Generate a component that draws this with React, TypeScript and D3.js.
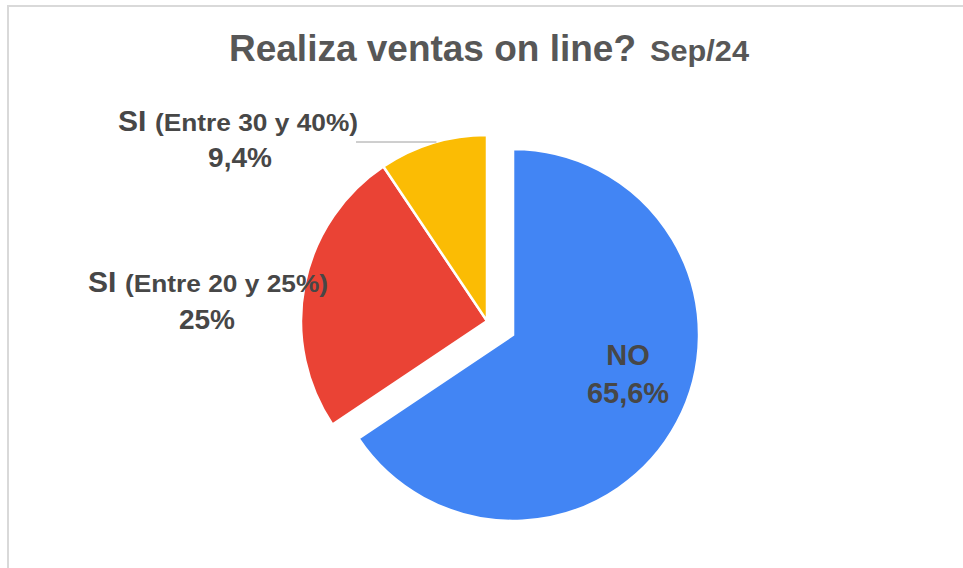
import React from 'react';
import * as d3 from 'd3';

const categories = ['NO', 'SI (Entre 20 y 25%)', 'SI (Entre 30 y 40%)'];
const values = [65.6, 25, 9.4];
const valueLabels = ['65,6%', '25%', '9,4%'];
const colors = ['#4285F4', '#EA4335', '#FBBC04'];

const W = 963;
const H = 568;
const cx = 487;
const cy = 321;
const radius = 186;
const explode = 29.5;

const font = '"Liberation Sans", Arial, sans-serif';
const textColor = '#474747';

const App = () => {
  const pie = d3.pie<number>().sort(null).value(d => d);
  const arcs = pie(values);
  const arc = d3.arc<d3.PieArcDatum<number>>().innerRadius(0).outerRadius(radius);

  // the NO slice is pulled out of the pie
  const offset = (d: d3.PieArcDatum<number>, i: number) => {
    if (i !== 0) return [0, 0];
    const mid = (d.startAngle + d.endAngle) / 2;
    return [Math.sin(mid) * explode, -Math.cos(mid) * explode];
  };

  // leader for the small yellow slice ends on its arc
  const lineY = 142;
  const lineEndX = cx - Math.sqrt(radius * radius - (cy - lineY) * (cy - lineY));

  return (
    <svg width={W} height={H} style={{ position: 'absolute', left: 0, top: 0, background: '#fff' }}>
      <line x1={7} x2={W} y1={6} y2={6} stroke="#d9d9d9" strokeWidth={2} />
      <line x1={8} x2={8} y1={5} y2={H} stroke="#d9d9d9" strokeWidth={2} />

      <text y={61} fontFamily={font} fontWeight="bold" fill="#575757">
        <tspan x={229} fontSize={37} textLength={407} lengthAdjust="spacingAndGlyphs">Realiza ventas on line?</tspan>
        <tspan x={650} fontSize={30} textLength={99} lengthAdjust="spacingAndGlyphs">Sep/24</tspan>
      </text>

      <g>
        {arcs.map((d, i) => {
          const [dx, dy] = offset(d, i);
          return (
            <path
              key={categories[i]}
              d={arc(d) || ''}
              transform={`translate(${cx + dx},${cy + dy})`}
              fill={colors[i]}
              stroke="#fff"
              strokeWidth={2.5}
            />
          );
        })}
      </g>

      <line x1={356} x2={lineEndX} y1={lineY} y2={lineY} stroke="#9e9e9e" strokeWidth={1} />

      {/* SI 30-40 */}
      <text y={131} fontFamily={font} fontWeight="bold" fill={textColor}>
        <tspan x={118} fontSize={30}>SI</tspan>
        <tspan x={155} fontSize={24} textLength={203} lengthAdjust="spacingAndGlyphs">(Entre 30 y 40%)</tspan>
      </text>
      <text x={240} y={167} fontFamily={font} fontWeight="bold" fontSize={28} fill={textColor} textAnchor="middle">
        {valueLabels[2]}
      </text>

      {/* SI 20-25 */}
      <text y={292} fontFamily={font} fontWeight="bold" fill={textColor}>
        <tspan x={88} fontSize={30}>SI</tspan>
        <tspan x={125} fontSize={24} textLength={203} lengthAdjust="spacingAndGlyphs">(Entre 20 y 25%)</tspan>
      </text>
      <text x={207} y={329} fontFamily={font} fontWeight="bold" fontSize={28} fill={textColor} textAnchor="middle">
        {valueLabels[1]}
      </text>

      {/* NO */}
      <text x={628} y={365} fontFamily={font} fontWeight="bold" fontSize={29} fill={textColor} textAnchor="middle">
        {categories[0]}
      </text>
      <text x={628} y={403} fontFamily={font} fontWeight="bold" fontSize={29} fill={textColor} textAnchor="middle">
        {valueLabels[0]}
      </text>
    </svg>
  );
};

export default App;
